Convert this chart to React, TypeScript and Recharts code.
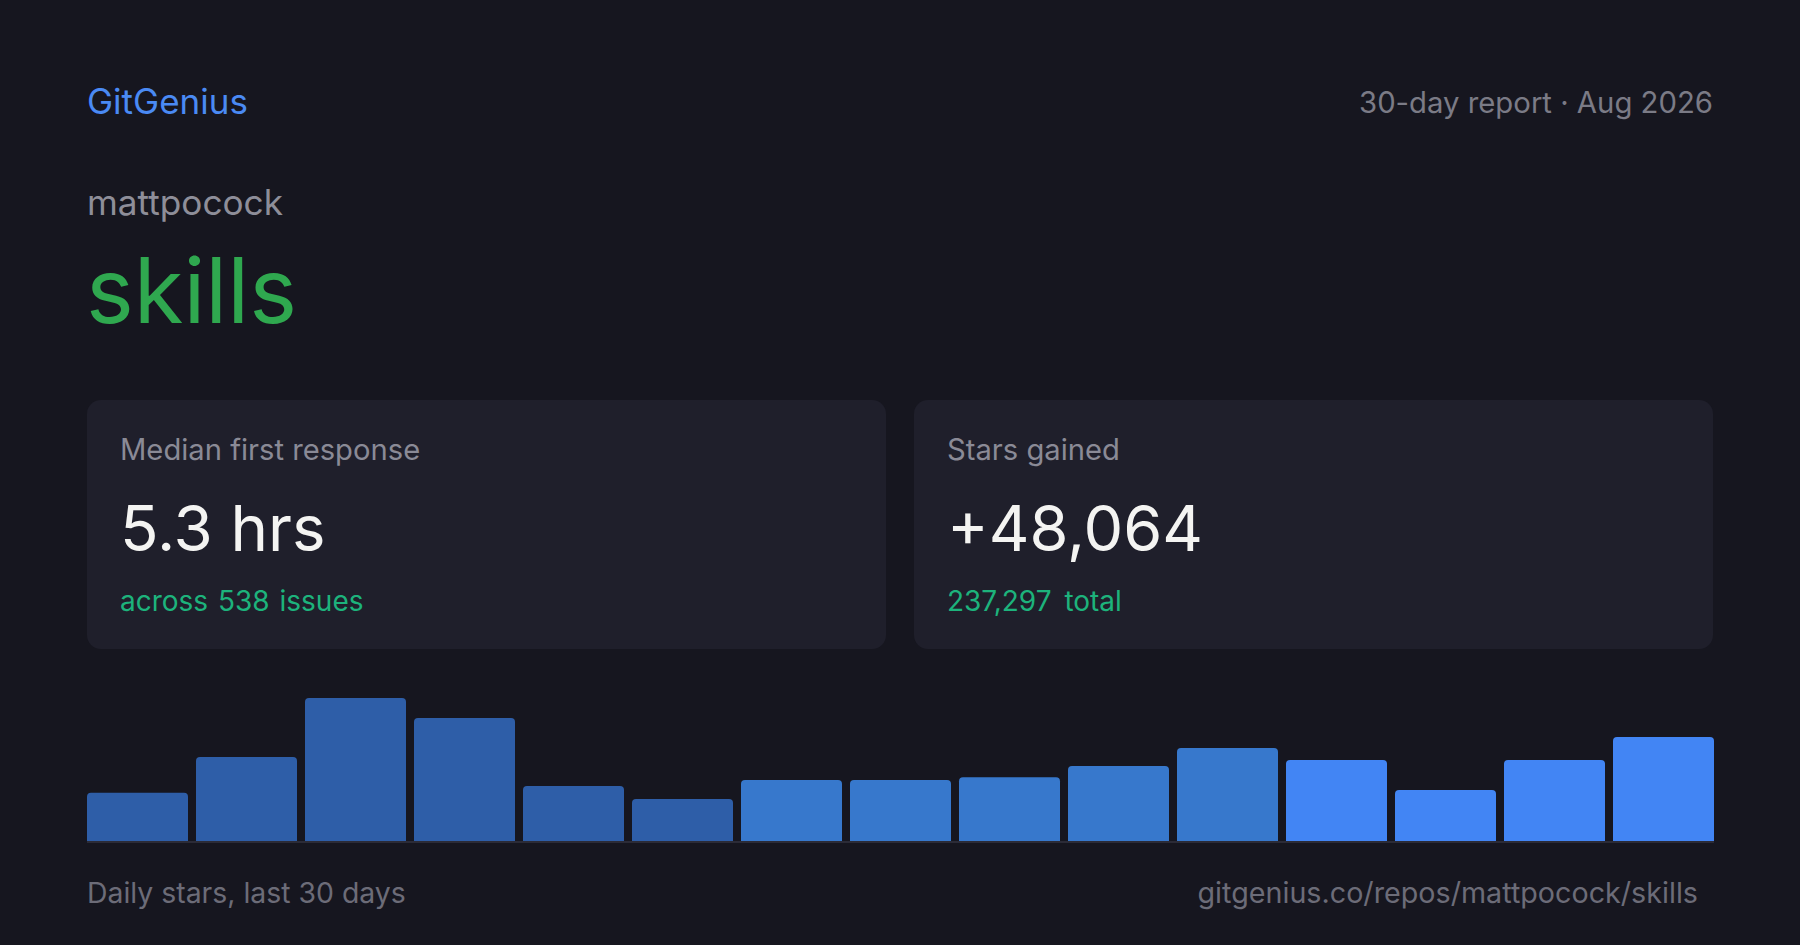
import React from "react";
import { BarChart, Bar, XAxis, YAxis, Cell } from "recharts";

const periods = ["1", "2", "3", "4", "5", "6", "7", "8", "9", "10", "11", "12", "13", "14", "15"];
const stars = [2000, 3460, 5860, 5050, 2280, 1750, 2520, 2520, 2640, 3090, 3830, 3340, 2120, 3340, 4270];
const tiers = [0, 0, 0, 0, 0, 0, 1, 1, 1, 1, 1, 2, 2, 2, 2];
const tierColors = ["#2e5ea8", "#3778cc", "#4285f4"];

const data = periods.map((p, i) => ({ period: p, stars: stars[i], tier: tiers[i] }));

const FONT = "Inter, 'Noto Sans', sans-serif";

export default function App() {
  return (
    <div
      style={{
        position: "fixed",
        left: 0,
        top: 0,
        width: 1800,
        height: 945,
        background: "#16161f",
        overflow: "hidden",
        fontFamily: FONT,
      }}
    >
      <div style={{ position: "absolute", left: 87, top: 400, width: 799, height: 249, background: "#1f1f2b", borderRadius: 14 }} />
      <div style={{ position: "absolute", left: 914, top: 400, width: 799, height: 249, background: "#1f1f2b", borderRadius: 14 }} />
      <svg width={1800} height={945} style={{ position: "absolute", left: 0, top: 0 }} fontFamily={FONT}>
        <text x={87} y={114} fontSize={35} fill="#4a8af4">GitGenius</text>
        <text x={1713} y={113} fontSize={29.3} fill="#7b7b86" textAnchor="end">30-day report · Aug 2026</text>
        <text x={87} y={215} fontSize={35.2} fill="#8e8e99">mattpocock</text>
        <text x={86} y={323} fontSize={90.5} fill="#2fa84f">skills</text>

        <text x={120} y={460} fontSize={29.2} fill="#8a8a96">Median first response</text>
        <text x={120} y={551} fontSize={63.5} fill="#f4f4f2">5.3 hrs</text>
        <text x={120} y={611} fontSize={28} fill="#1db37c" wordSpacing={2}>across 538 issues</text>

        <text x={947} y={460} fontSize={29.2} fill="#8a8a96">Stars gained</text>
        <text x={947} y={551} fontSize={63} fill="#f4f4f2">+48,064</text>
        <text x={947} y={611} fontSize={28} fill="#1db37c" wordSpacing={5}>237,297 total</text>

        <text x={87} y={903} fontSize={28.4} fill="#6c6c78">Daily stars, last 30 days</text>
        <text x={1698} y={903} fontSize={28.7} fill="#6c6c78" textAnchor="end">gitgenius.co/repos/mattpocock/skills</text>
      </svg>
      <div style={{ position: "absolute", left: 87, top: 692 }}>
        <BarChart width={1627} height={152} data={data} margin={{ top: 6, right: 0, bottom: 0, left: 0 }}>
          <YAxis hide domain={[0, "dataMax"]} />
          <XAxis
            dataKey="period"
            height={2}
            tick={false}
            tickLine={false}
            padding={{ left: -4, right: -4 }}
            axisLine={{ stroke: "#2b2b37", strokeWidth: 2 }}
          />
          <Bar dataKey="stars" barSize={101} radius={[4, 4, 0, 0]} isAnimationActive={false}>
            {data.map((d, i) => (
              <Cell key={i} fill={tierColors[d.tier]} />
            ))}
          </Bar>
        </BarChart>
      </div>
    </div>
  );
}
